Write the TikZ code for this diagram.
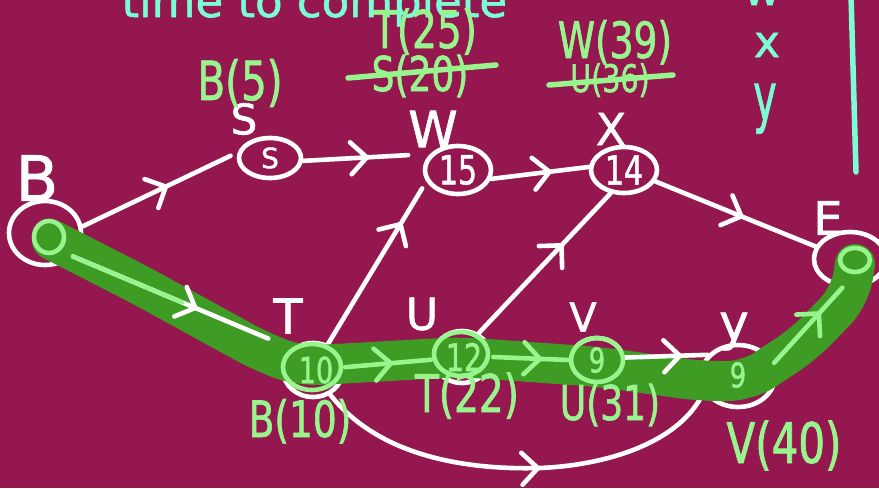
\documentclass[tikz,border=0pt]{standalone}
\usepackage{fontspec}
\setmainfont{DejaVu Sans}[FakeBold=1.3]
\newfontfamily\narrowhand{DejaVu Sans}[FakeStretch=0.75,FakeBold=1.3]
\usetikzlibrary{shapes.geometric,arrows.meta,decorations.markings,calc}
\definecolor{board}{RGB}{148,23,79}
\definecolor{mint}{RGB}{152,245,142}
\definecolor{route}{RGB}{62,156,36}
\definecolor{aqua}{RGB}{122,252,212}
\newcommand\sz[1]{\fontsize{#1}{#1}\selectfont}
\begin{document}
\begin{tikzpicture}[x=1pt,y=-1pt,
  wire/.style={line width=4.6pt,line cap=round,line join=round},
  tip/.style={postaction={decorate},decoration={markings,
    mark=at position #1 with {\arrow{Straight Barb[length=16pt,width=32pt,round,line width=4.6pt]}}}},
  vert/.style={ellipse,draw=white,line width=4.6pt,inner sep=0pt},
  ring/.style={ellipse,draw=mint,line width=4.6pt,inner sep=0pt},
  lbl/.style={text=white,font=\sz{#1}},
  note/.style={text=mint,font=\narrowhand\sz{#1},anchor=base},
  strike/.style={mint,line width=5.5pt,line cap=round}]
\useasboundingbox (0,0) rectangle (879,488);
\fill[board] (0,0) rectangle (879,488);

% heading and side notes
\node[text=aqua,font=\sz{45},anchor=base west] (head) at (118,17) {time to complete};
\node[text=aqua,font=\sz{46},anchor=base] (colw) at (762,5) {w};
\node[text=aqua,font=\sz{44},anchor=base] (colx) at (767,57) {x};
\node[text=aqua,font=\sz{66},anchor=base,xscale=0.6,transform shape] (coly) at (765,120) {y};
\draw[aqua,line width=5.5pt,line cap=round] (851,-5) -- (856,172);

% activity nodes
\node[vert,minimum width=72pt,minimum height=64pt] (B) at (45,233) {};
\node[vert,minimum width=62pt,minimum height=40pt,text=white,font=\sz{28}] (S) at (270,158) {S};
\node[vert,minimum width=66pt,minimum height=48pt,text=white,font=\narrowhand\sz{40}] (W) at (458,170) {15};
\node[vert,minimum width=66pt,minimum height=46pt,text=white,font=\narrowhand\sz{40}] (X) at (624,170) {14};
\node[vert,minimum width=72pt,minimum height=54pt] (E) at (850,259) {};
\node[vert,minimum width=60pt,minimum height=54pt] (T) at (313,370) {};
\node[vert,minimum width=58pt,minimum height=52pt] (U) at (462,357) {};
\node[vert,minimum width=52pt,minimum height=44pt] (V) at (597,360) {};
\node[vert,minimum width=74pt,minimum height=62pt] (Y) at (738,376) {};

% node letters
\node[lbl=62] (Bl) at (37,178) {B};
\node[lbl=42] (Sl) at (244,119) {S};
\node[lbl=50] (Wl) at (433,129) {W};
\node[lbl=44] (Xl) at (611,129) {X};
\node[lbl=46] (El) at (828,218) {E};
\node[lbl=48] (Tl) at (288,316) {T};
\node[lbl=44] (Ul) at (422,314) {U};
\node[lbl=40] (Vl) at (583,317) {V};
\node[lbl=50,anchor=base] (Yl) at (734,340) {y};

% precedence arcs off the route
\draw[wire,white,tip=0.55,shorten >=8pt] (B.10) -- (S.170);
\draw[wire,white,tip=0.52,shorten >=22pt] (S.-5) -- (W.150);
\draw[wire,white,tip=0.62] (W.-15) -- (X.175);
\draw[wire,white,tip=0.55] (X.-20) -- (E.160);
\draw[wire,white,tip=0.75,shorten >=8pt] (T.60) -- (W.200);
\draw[wire,white,tip=0.64] (U.55) -- (X.240);
\draw[wire,white,tip=0.55] (T.-55) .. controls (380,458) and (470,470) .. (540,468)
  .. controls (612,465) and (682,440) .. (Y.205);

% critical route highlight
\draw[route,line width=40pt,line cap=round,line join=round,rounded corners=20pt]
  (52,240) -- (140,285) -- (262,352) -- (300,366) -- (460,357) -- (600,367)
  -- (700,381) -- (748,381) -- (805,343) -- (850,296) -- (855,264);

% arcs along the route
\draw[wire,white,tip=0.57,shorten >=25pt] (B.-40) -- (T.135);
\draw[wire,mint] (B.-40) -- ($(B.-40)!0.5!(T.135)$);
\draw[wire,white,tip=0.69] (V.5) -- (Y.145);
\draw[wire,mint,tip=0.56] (T.5) -- (U.185);
\draw[wire,mint,tip=0.65] (U.0) -- (V.180);
\draw[wire,mint,tip=0.68] (Y.20) -- (E.255);

% traced nodes on the route
\node[ring,minimum width=30pt,minimum height=32pt] (Bi) at (49,237) {};
\node[ring,minimum width=30pt,minimum height=24pt] (Ei) at (855,260) {};
\node[ring,minimum width=58pt,minimum height=46pt] (Tr) at (312,367) {};
\node[ring,minimum width=54pt,minimum height=44pt] (Ur) at (461,354) {};
\node[ring,minimum width=52pt,minimum height=44pt] (Vr) at (597,360) {};
\node[text=mint,font=\narrowhand\sz{36}] (Tn) at (316,370) {10};
\node[text=mint,font=\narrowhand\sz{38}] (Un) at (464,357) {12};
\node[text=mint,font=\narrowhand\sz{34}] (Vn) at (597,360) {9};
\node[text=mint,font=\narrowhand\sz{34}] (Yn) at (738,375) {9};

% earliest finish notes
\node[note=54] (nS) at (240,100) {B(5)};
\node[note=52] (nW1) at (425,48) {T(25)};
\node[note=48] (nW2) at (420,91) {S(20)};
\draw[strike] (348,78) -- (496,65);
\node[note=50] (nX1) at (615,58) {W(39)};
\node[note=38] (nX2) at (610,92) {U(36)};
\draw[strike] (549,85) -- (673,75);
\node[note=50] (nT) at (300,437) {B(10)};
\node[note=52] (nU) at (467,412) {T(22)};
\node[note=48] (nV) at (610,420) {U(31)};
\node[note=56] (nY) at (784,463) {V(40)};
\end{tikzpicture}
\end{document}
